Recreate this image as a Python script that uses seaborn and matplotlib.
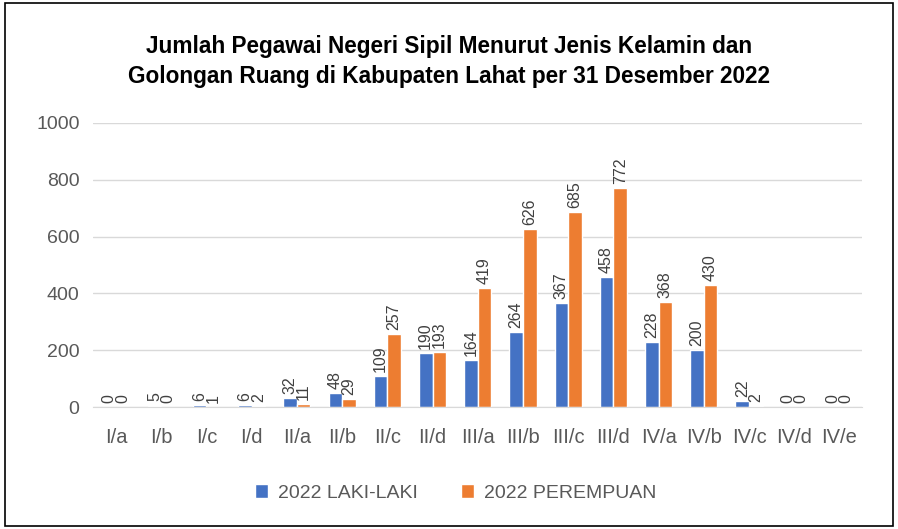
import pandas as pd
import matplotlib
matplotlib.use("Agg")
import matplotlib.pyplot as plt
import seaborn as sns
from matplotlib.patches import Rectangle

# Data
golongan = ["I/a", "I/b", "I/c", "I/d", "II/a", "II/b", "II/c", "II/d",
            "III/a", "III/b", "III/c", "III/d", "IV/a", "IV/b", "IV/c", "IV/d", "IV/e"]
laki = [0, 5, 6, 6, 32, 48, 109, 190, 164, 264, 367, 458, 228, 200, 22, 0, 0]
perempuan = [0, 0, 1, 2, 11, 29, 257, 193, 419, 626, 685, 772, 368, 430, 2, 0, 0]
series = ["2022 LAKI-LAKI", "2022 PEREMPUAN"]

df = pd.DataFrame({
    "Golongan": golongan * 2,
    "Jumlah": laki + perempuan,
    "Seri": [series[0]] * len(golongan) + [series[1]] * len(golongan),
})

sns.set_style("white")
plt.rcParams["font.family"] = ["Liberation Sans", "DejaVu Sans"]

fig = plt.figure(figsize=(8.98, 5.29), dpi=100)
ax = fig.add_axes([0.104, 0.2306, 0.856, 0.537])

sns.barplot(data=df, x="Golongan", y="Jumlah", hue="Seri",
            palette=["#4472C4", "#ED7D31"], saturation=1, width=0.6, ax=ax, legend=True)

ax.set_ylim(0, 1000)
ax.set_yticks(range(0, 1001, 200))
ax.set_xlim(-0.5, len(golongan) - 0.5)
ax.yaxis.grid(True, color="#D9D9D9", linewidth=1)
ax.set_axisbelow(True)
for s in ["top", "right", "left"]:
    ax.spines[s].set_visible(False)
ax.spines["bottom"].set_color("#D9D9D9")
ax.tick_params(axis="y", colors="#595959", labelsize=14, length=0, pad=10)
ax.tick_params(axis="x", colors="#595959", labelsize=14.5, length=0, pad=15)
ax.set_xlabel("")
ax.set_ylabel("")

for cont in ax.containers:
    ax.bar_label(cont, rotation=90, padding=3, fontsize=11.5, color="#404040")

leg = ax.legend(loc="upper center", bbox_to_anchor=(0.471, -0.21), ncol=2,
                frameon=False, fontsize=14, handlelength=0.7, handleheight=0.7,
                columnspacing=2.2, handletextpad=0.5)
for t in leg.get_texts():
    t.set_color("#595959")

fig.text(0.5, 0.913, "Jumlah Pegawai Negeri Sipil Menurut Jenis Kelamin dan",
         ha="center", va="center", fontsize=16.3, fontweight="bold", color="#000000",
         family=["Liberation Sans", "DejaVu Sans"])
fig.text(0.5, 0.856, "Golongan Ruang di Kabupaten Lahat per 31 Desember 2022",
         ha="center", va="center", fontsize=16.3, fontweight="bold", color="#000000",
         family=["Liberation Sans", "DejaVu Sans"])

fig.patches.append(Rectangle((0.006, 0.006), 0.988, 0.988, transform=fig.transFigure,
                             fill=False, edgecolor="black", linewidth=1.2))

plt.savefig("out.png", dpi=100)
plt.close("all")
